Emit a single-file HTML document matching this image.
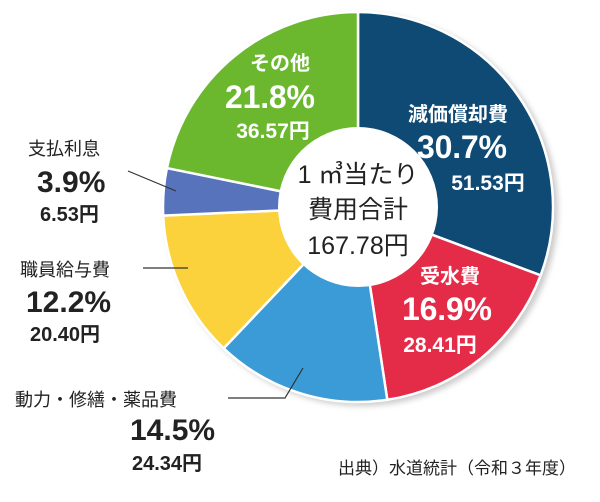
<!DOCTYPE html>
<html><head><meta charset="utf-8"><style>
body{margin:0;background:#fff;width:600px;height:497px;overflow:hidden;font-family:"Liberation Sans","Noto Sans CJK JP",sans-serif}
svg text{font-family:"Liberation Sans","Noto Sans CJK JP",sans-serif}
</style></head><body>
<svg width="600" height="497" viewBox="0 0 600 497">
<defs><filter id="sh" x="-10%" y="-10%" width="120%" height="120%"><feGaussianBlur stdDeviation="3"/></filter></defs>
<circle cx="362" cy="210" r="196" fill="#999" opacity="0.5" filter="url(#sh)"/>
<g id="slices"></g>
<circle cx="358" cy="207" r="80" fill="#fff"/>
<g fill="#222" font-size="25" text-anchor="middle">
<text x="358" y="183">1 ㎥当たり</text><text x="358" y="218">費用合計</text><text x="358" y="254">167.78円</text></g>
<g fill="#fff" font-weight="bold" text-anchor="middle">
<text x="458" y="121" font-size="20">減価償却費</text>
<text x="462" y="158" font-size="32" textLength="90">30.7%</text>
<text x="488" y="190" font-size="21">51.53円</text>
<text x="450" y="283" font-size="20">受水費</text>
<text x="447" y="320" font-size="32" textLength="90">16.9%</text>
<text x="440" y="352" font-size="21">28.41円</text>
<text x="280" y="70" font-size="20">その他</text>
<text x="270" y="108" font-size="32" textLength="90">21.8%</text>
<text x="273" y="138" font-size="21">36.57円</text>
</g>
<g fill="#222">
<text x="28" y="155" font-size="18">支払利息</text>
<text x="37" y="192" font-size="30" font-weight="bold">3.9%</text>
<text x="40" y="221" font-size="20" font-weight="bold">6.53円</text>
<text x="20" y="276" font-size="18">職員給与費</text>
<text x="26" y="312" font-size="30" font-weight="bold">12.2%</text>
<text x="30" y="341" font-size="20" font-weight="bold">20.40円</text>
<text x="15" y="406" font-size="18">動力・修繕・薬品費</text>
<text x="130" y="440" font-size="30" font-weight="bold">14.5%</text>
<text x="132" y="470" font-size="20" font-weight="bold">24.34円</text>
<text x="338" y="474" font-size="17">出典）水道統計（令和３年度）</text>
</g>
<g stroke="#333" stroke-width="1.2" fill="none">
<polyline points="128,171 176,191"/>
<polyline points="143,268 188,268"/>
<polyline points="228,398 285,398 303,368"/>
</g>
</svg>
<script>
const categories=["減価償却費","受水費","動力・修繕・薬品費","職員給与費","支払利息","その他"];
const percents=[30.7,16.9,14.5,12.2,3.9,21.8];
const colors=["#0e4a74","#e42c49","#3a9bd6","#fbd23b","#5673bb","#6bb82f"];
const cx=358,cy=207,R=195;
const g=document.getElementById('slices');
const total=percents.reduce((a,b)=>a+b,0);
let a0=0;
percents.forEach((p,i)=>{
  const a1=a0+p/total*2*Math.PI;
  const x0=cx+R*Math.sin(a0),y0=cy-R*Math.cos(a0),x1=cx+R*Math.sin(a1),y1=cy-R*Math.cos(a1);
  const path=document.createElementNS('http://www.w3.org/2000/svg','path');
  path.setAttribute('d',`M${cx},${cy}L${x0},${y0}A${R},${R} 0 ${a1-a0>Math.PI?1:0} 1 ${x1},${y1}Z`);
  path.setAttribute('fill',colors[i]);
  path.setAttribute('stroke','#fff');
  path.setAttribute('stroke-width','2.5');
  
  
  g.appendChild(path);
  a0=a1;
});
</script>
</body></html>
